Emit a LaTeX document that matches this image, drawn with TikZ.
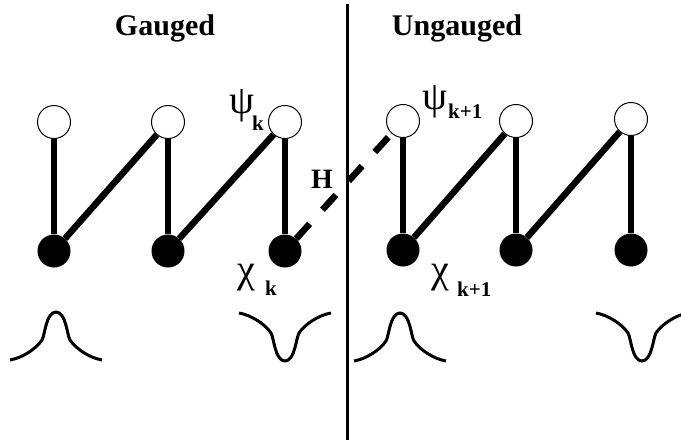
\documentclass[tikz,border=0pt]{standalone}
\usepackage{fontspec}
\setmainfont{Liberation Serif}
\begin{document}
\begin{tikzpicture}[x=1pt,y=-1pt,
  open/.style={circle, draw, line width=1pt, fill=white, minimum size=33pt, inner sep=0pt},
  full/.style={circle, fill=black, minimum size=33pt, inner sep=0pt},
  bond/.style={line width=6.5pt},
  hop/.style={line width=6.5pt, dash pattern=on 20pt off 19pt},
  wave/.style={line width=3pt},
  title/.style={font=\fontsize{30}{30}\selectfont\bfseries, inner sep=0pt, anchor=base},
  greek/.style={font=\fontsize{40}{40}\selectfont, inner sep=0pt, anchor=base west},
  sub/.style={font=\fontsize{21}{21}\selectfont\bfseries, inner sep=0pt, anchor=base west}]
\useasboundingbox (0,0) rectangle (681,440);

% divider
\coordinate (top) at (347,4);
\coordinate (bot) at (347,440);
\draw[line width=3pt] (top) -- (bot);

% titles
\node[title] (gauged) at (165,35) {Gauged};
\node[title] (ungauged) at (457,35) {Ungauged};

% sites
\node[open] (o1) at (54,122) {};
\node[open] (o2) at (168,122) {};
\node[open] (o3) at (285,122) {};
\node[full] (f1) at (54,251) {};
\node[full] (f2) at (168,251) {};
\node[full] (f3) at (285,251) {};
\node[open] (o4) at (403,121) {};
\node[open] (o5) at (516,121) {};
\node[open] (o6) at (631,119) {};
\node[full] (f4) at (403,250) {};
\node[full] (f5) at (516,250) {};
\node[full] (f6) at (631,250) {};

% bonds
\foreach \i in {1,...,6} \draw[bond] (o\i) -- (f\i);
\draw[bond] (f1) -- (o2);
\draw[bond] (f2) -- (o3);
\draw[bond] (f4) -- (o5);
\draw[bond] (f5) -- (o6);
\draw[hop] (f3) -- (o4);

% labels
\node[font=\fontsize{28}{28}\selectfont\bfseries, inner sep=0pt, anchor=base] (h) at (322,188) {H};
\node[greek] (psik) at (229,113) {ψ};
\node[sub] (psiksub) at (252,130) {k};
\node[greek] (psik1) at (422,109) {ψ};
\node[sub] (psik1sub) at (448,118) {k+1};
\node[greek] (chik) at (237,282) {χ};
\node[sub] (chiksub) at (265,295) {k};
\node[greek] (chik1) at (431,282) {χ};
\node[sub] (chik1sub) at (457,296) {k+1};

% profiles
\foreach \cx/\by/\s in {56/360/1, 285/313/-1, 400/361/1, 642/313/-1}
  \draw[wave, shift={(\cx,\by)}, yscale=\s]
    (-46,0) .. controls (-34,-2) and (-20,-11) .. (-14,-20)
    .. controls (-11,-25) and (-10,-48) .. (0,-48)
    .. controls (10,-48) and (11,-25) .. (14,-20)
    .. controls (20,-11) and (34,-2) .. (46,0);
\end{tikzpicture}
\end{document}
